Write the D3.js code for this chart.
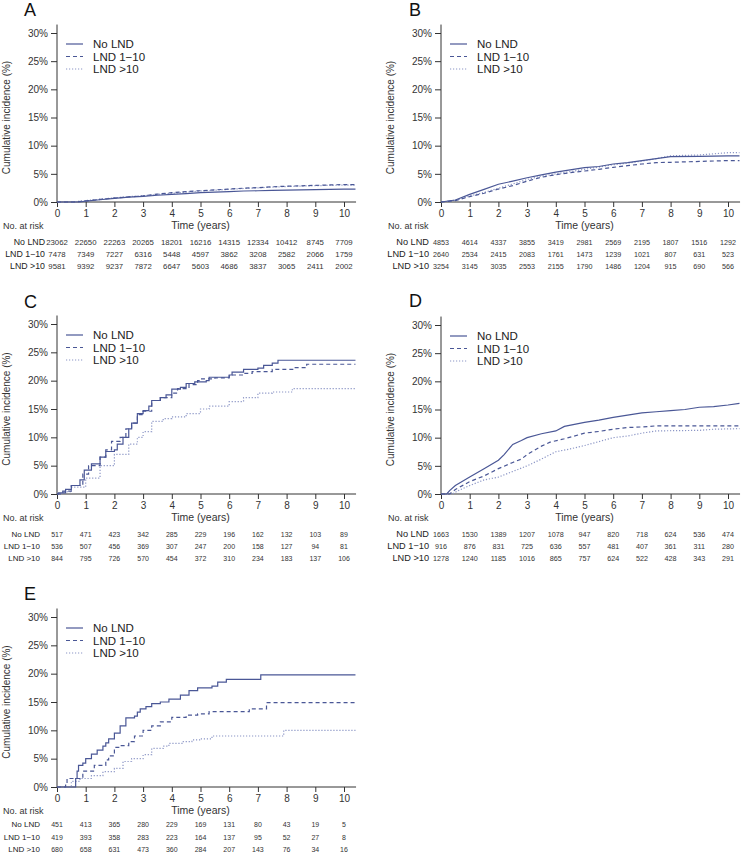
<!DOCTYPE html>
<html><head><meta charset="utf-8">
<script src="https://cdn.jsdelivr.net/npm/d3@7"></script>
<style>body{margin:0;background:#fff}svg{display:block;font-family:"Liberation Sans",Arial,sans-serif}</style>
</head><body><svg id="c" width="741" height="853"></svg>
<script>
// ---------- data ----------
const seriesNames = ["No LND", "LND 1\u221210", "LND >10"];
const years = [0,1,2,3,4,5,6,7,8,9,10];
const yTicks = [0,5,10,15,20,25,30];

// Panel A (cumulative incidence %, [years, %])
const aNoLND = [[0,0],[0.8,0],[1,0.15],[1.5,0.4],[2,0.65],[2.5,0.85],[3,1.0],[3.5,1.2],[4,1.36],[4.5,1.5],[5,1.65],[5.5,1.75],[6,1.85],[6.5,1.95],[7,2.0],[7.5,2.05],[8,2.1],[9,2.2],[10,2.3],[10.4,2.3]];
const aLND1 = [[0,0],[0.6,0],[1,0.2],[1.5,0.45],[2,0.7],[2.5,0.9],[3,1.1],[3.5,1.4],[4,1.65],[4.5,1.85],[5,2.0],[5.5,2.15],[6,2.3],[6.5,2.45],[7,2.55],[7.5,2.7],[8,2.8],[9,2.95],[10,3.1],[10.4,3.1]];
const aLND2 = [[0,0],[0.5,0],[1,0.25],[1.5,0.5],[2,0.75],[2.5,0.95],[3,1.1],[3.5,1.35],[4,1.55],[4.5,1.75],[5,1.95],[5.5,2.1],[6,2.25],[6.5,2.4],[7,2.5],[7.5,2.65],[8,2.75],[9,2.9],[10,3.0],[10.4,3.0]];
// Panel B
const bNoLND = [[0,0],[0.5,0.35],[1,1.35],[1.5,2.25],[2,3.15],[2.5,3.7],[3,4.3],[3.5,4.8],[4,5.3],[4.5,5.7],[5,6.1],[5.5,6.3],[6,6.75],[6.5,7.0],[7,7.35],[7.5,7.7],[8,8.05],[9,8.1],[10,8.2],[10.4,8.2]];
const bLND1 = [[0,0],[0.5,0.25],[1,0.95],[1.5,1.55],[2,2.3],[2.5,2.9],[3,3.7],[3.5,4.4],[4,4.85],[4.5,5.2],[5,5.5],[5.5,5.8],[6,6.15],[6.5,6.45],[7,6.75],[7.5,7.0],[8,7.05],[9,7.2],[10,7.35],[10.4,7.35]];
const bLND2 = [[0,0],[0.5,0.3],[1,1.05],[1.5,1.7],[2,2.45],[2.5,3.2],[3,4.0],[3.5,4.6],[4,5.0],[4.5,5.4],[5,5.8],[5.5,6.2],[6,6.6],[6.5,6.9],[7,7.25],[7.5,7.7],[8,8.2],[9,8.35],[10,8.75],[10.4,8.75]];
// Panel C
const cNoLND = [[0,0],[0.05,0.2],[0.3,0.8],[0.5,1.5],[0.8,2.5],[0.95,4.2],[1.2,5.3],[1.5,6.5],[1.7,7.5],[2.0,7.8],[2.1,8.8],[2.3,10],[2.5,11.5],[2.6,12.5],[2.8,14.2],[3.0,14.7],[3.2,15.5],[3.3,16.5],[3.6,17.0],[3.8,17.5],[4.0,18.5],[4.3,18.8],[4.5,19.5],[4.8,19.8],[5.2,20.0],[5.3,20.6],[6.0,21.0],[6.1,21.5],[6.5,22.0],[7.0,22.2],[7.2,22.7],[7.5,23.1],[7.7,23.6],[10.4,23.6]];
const cLND1 = [[0,0],[0.2,0.5],[0.5,1.5],[0.9,3.5],[1.1,5.0],[1.5,6.5],[1.7,7.8],[1.9,9.3],[2.2,10.0],[2.4,11.5],[2.6,12.5],[2.8,14.0],[3.0,14.6],[3.3,16.5],[3.6,17.0],[4.0,17.8],[4.2,18.6],[4.6,19.3],[4.9,20.0],[5.0,20.3],[5.5,20.5],[6.0,21.0],[6.5,21.3],[6.8,21.6],[7.5,22.0],[8.3,22.3],[8.7,22.9],[10.4,22.9]];
const cLND2 = [[0,0],[0.2,0.4],[0.5,1.2],[1.0,2.8],[1.5,5.0],[2.0,7.0],[2.5,8.8],[2.8,10.0],[3.0,11.0],[3.3,12.8],[3.7,13.3],[4.0,13.6],[4.5,14.2],[5.0,15.0],[5.3,15.5],[6.0,16.3],[6.5,17.0],[7.0,17.8],[7.5,18.0],[8.2,18.6],[10.4,18.6]];
// Panel D
const dNoLND = [[0,0],[0.2,0],[0.3,0.6],[0.5,1.5],[1.0,3.0],[1.5,4.5],[2.0,6.0],[2.2,7.0],[2.5,8.8],[2.8,9.5],[3.0,10.0],[3.5,10.7],[4.0,11.2],[4.3,12.0],[5.0,12.7],[5.5,13.1],[6.0,13.6],[6.5,14.0],[7.0,14.4],[7.5,14.6],[8.0,14.8],[8.5,15.0],[9.0,15.4],[9.5,15.5],[10.0,15.8],[10.4,16.1]];
const dLND1 = [[0,0],[0.3,0],[0.5,0.8],[1.0,2.2],[1.5,3.2],[2.0,4.5],[2.5,5.6],[2.8,6.2],[3.0,7.0],[3.5,8.5],[3.8,9.2],[4.3,9.8],[5.0,10.8],[5.5,11.1],[6.0,11.5],[6.5,11.8],[7.0,11.9],[7.5,12.1],[10.4,12.1]];
const dLND2 = [[0,0],[0.4,0],[0.6,0.6],[1.0,1.5],[1.5,2.5],[1.8,2.8],[2.0,3.0],[2.5,4.0],[3.0,5.0],[3.5,6.2],[4.0,7.5],[4.5,8.0],[5.0,8.6],[5.5,9.3],[6.0,10.0],[6.5,10.3],[7.0,10.8],[7.5,11.2],[9.0,11.3],[9.5,11.5],[10.4,11.6]];
// Panel E
const eNoLND = [[0,0],[0.3,0],[0.65,1.5],[0.7,2.8],[0.75,3.8],[0.9,4.2],[1.0,5.0],[1.2,5.8],[1.4,6.5],[1.6,7.2],[1.7,7.8],[1.8,8.5],[2.0,9.5],[2.2,10.8],[2.4,12.2],[2.7,12.5],[2.8,13.2],[2.9,13.8],[3.1,14.2],[3.3,14.7],[3.6,15.0],[3.9,15.5],[4.3,16.2],[4.6,17.0],[4.9,17.5],[5.4,17.8],[5.6,18.5],[5.9,19.0],[7.1,19.8],[10.4,19.8]];
const eLND1 = [[0,0],[0.3,0.8],[0.35,1.5],[0.9,2.8],[1.3,3.8],[1.7,4.8],[1.8,5.5],[2.0,7.0],[2.2,7.3],[2.5,8.0],[2.7,9.0],[3.0,10.0],[3.3,10.8],[3.6,11.5],[4.0,12.3],[4.5,12.7],[4.9,12.9],[5.3,13.3],[6.7,13.8],[7.3,14.9],[10.4,14.9]];
const eLND2 = [[0,0],[0.3,0],[0.5,1.0],[0.8,1.5],[1.2,2.0],[1.6,2.7],[2.0,3.3],[2.3,4.5],[2.6,5.0],[3.0,5.7],[3.3,6.8],[3.7,7.2],[3.9,7.7],[4.4,8.0],[4.7,8.3],[5.0,8.5],[5.4,9.0],[7.9,10.0],[10.4,10.0]];

// Numbers at risk
const riskA = [[23062,22650,22263,20265,18201,16216,14315,12334,10412,8745,7709],[7478,7349,7227,6316,5448,4597,3862,3208,2582,2066,1759],[9581,9392,9237,7872,6647,5603,4686,3837,3065,2411,2002]];
const riskB = [[4853,4614,4337,3855,3419,2981,2569,2195,1807,1516,1292],[2640,2534,2415,2083,1761,1473,1239,1021,807,631,523],[3254,3145,3035,2553,2155,1790,1486,1204,915,690,566]];
const riskC = [[517,471,423,342,285,229,196,162,132,103,89],[536,507,456,369,307,247,200,158,127,94,81],[844,795,726,570,454,372,310,234,183,137,106]];
const riskD = [[1663,1530,1389,1207,1078,947,820,718,624,536,474],[916,876,831,725,636,557,481,407,361,311,280],[1278,1240,1185,1016,865,757,624,522,428,343,291]];
const riskE = [[451,413,365,280,229,169,131,80,43,19,5],[419,393,358,283,223,164,137,95,52,27,8],[680,658,631,473,360,284,207,143,76,34,16]];

// ---------- layout ----------
const panels = [
  {id:"A", series:[aNoLND,aLND1,aLND2], risk:riskA, step:false, ax:57,  top:33,  bottom:202, lx:24,  ly:16,  labR:45,  nar:3,   rows:[245,257,269], tl:229, lf:8.8, nf:7.8},
  {id:"B", series:[bNoLND,bLND1,bLND2], risk:riskB, step:false, ax:441, top:33,  bottom:202, lx:409, ly:16,  labR:429, nar:388, rows:[245,257,269], tl:229, lf:9.2, nf:7.2},
  {id:"C", series:[cNoLND,cLND1,cLND2], risk:riskC, step:true,  ax:57,  top:324, bottom:494, lx:24,  ly:308, labR:40,  nar:3,   rows:[537,549,561], tl:521, lf:8.0, nf:7.0},
  {id:"D", series:[dNoLND,dLND1,dLND2], risk:riskD, step:false, ax:441, top:325, bottom:494, lx:409, ly:307, labR:429, nar:388, rows:[537,549,561], tl:521, lf:9.2, nf:7.2},
  {id:"E", series:[eNoLND,eLND1,eLND2], risk:riskE, step:true,  ax:57,  top:617, bottom:787, lx:24,  ly:600, labR:40,  nar:3,   rows:[827,840,852], tl:814, lf:8.0, nf:7.0}
];
const styles = [
  {color:"#4a5796", dash:null, w:1.2},
  {color:"#4a5796", dash:"4,3", w:1.2},
  {color:"#8c96c6", dash:"1.2,1.8", w:1.2}
];
const axisColor = "#333";
const svg = d3.select("#c");

panels.forEach(p => {
  const g = svg.append("g");
  const x = d3.scaleLinear().domain([0,10]).range([p.ax, p.ax+287]);
  const y = d3.scaleLinear().domain([0,30]).range([p.bottom, p.top]);

  g.append("text").attr("x",p.lx).attr("y",p.ly).attr("font-size",18).attr("fill","#111").text(p.id);

  // y axis
  const ya = g.append("g").attr("transform",`translate(${p.ax},0)`)
    .call(d3.axisLeft(y).tickValues(yTicks).tickFormat(d=>d+"%").tickSize(6).tickPadding(3));
  ya.select(".domain").remove();
  ya.selectAll("line").attr("stroke",axisColor);
  ya.selectAll("text").attr("font-size",10).attr("fill","#333").attr("font-family",null);
  g.append("line").attr("x1",p.ax).attr("x2",p.ax).attr("y1",y(0)).attr("y2",y(31.5)).attr("stroke",axisColor);

  // x axis
  const xa = g.append("g").attr("transform",`translate(0,${p.bottom})`)
    .call(d3.axisBottom(x).tickValues(years).tickSize(5).tickPadding(3));
  xa.select(".domain").remove();
  xa.selectAll("line").attr("stroke",axisColor);
  xa.selectAll("text").attr("font-size",10).attr("fill","#333").attr("font-family",null);
  g.append("line").attr("x1",x(0)).attr("x2",x(10.42)).attr("y1",p.bottom).attr("y2",p.bottom).attr("stroke",axisColor);

  // y label
  g.append("text").attr("transform",`translate(${p.ax-47},${(p.top+p.bottom)/2}) rotate(-90)`)
    .attr("text-anchor","middle").attr("font-size",10).attr("fill","#333").text("Cumulative incidence (%)");

  // curves
  const line = d3.line().x(d=>x(d[0])).y(d=>y(d[1])).curve(p.step?d3.curveStepAfter:d3.curveLinear);
  [2,1,0].forEach(i => {
    g.append("path").datum(p.series[i]).attr("d",line).attr("fill","none")
      .attr("stroke",styles[i].color).attr("stroke-width",styles[i].w)
      .attr("stroke-dasharray",styles[i].dash);
  });

  // legend
  seriesNames.forEach((n,i) => {
    const by = p.top + 15 + i*12.5;
    g.append("line").attr("x1",p.ax+9).attr("x2",p.ax+26).attr("y1",by-4).attr("y2",by-4)
      .attr("stroke",styles[i].color).attr("stroke-width",styles[i].w).attr("stroke-dasharray",styles[i].dash);
    g.append("text").attr("x",p.ax+36).attr("y",by).attr("font-size",11.5).attr("fill","#222").text(n);
  });

  // Time label + risk table
  g.append("text").attr("x",x(5)).attr("y",p.tl).attr("text-anchor","middle").attr("font-size",10.5).attr("fill","#333").text("Time (years)");
  g.append("text").attr("x",p.nar).attr("y",p.tl).attr("font-size",9).attr("fill","#333").text("No. at risk");
  seriesNames.forEach((n,i) => {
    g.append("text").attr("x",p.labR).attr("y",p.rows[i]).attr("text-anchor","end").attr("font-size",p.lf).attr("fill","#222").text(n);
    g.selectAll(null).data(p.risk[i]).enter().append("text")
      .attr("x",(d,j)=>x(years[j])).attr("y",p.rows[i]).attr("text-anchor","middle")
      .attr("font-size",p.nf).attr("fill","#333").text(d=>d);
  });
});
</script></body></html>
